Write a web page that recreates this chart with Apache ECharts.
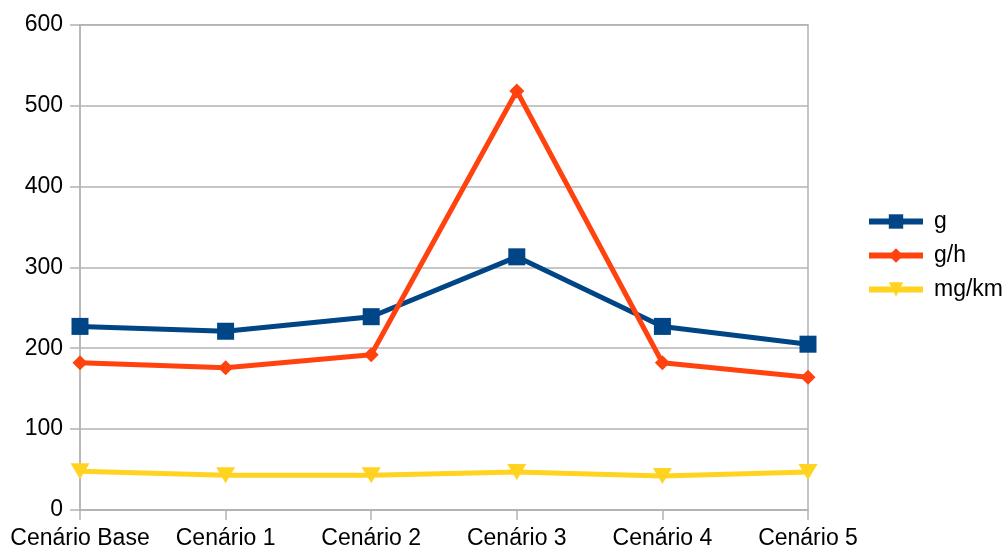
<!DOCTYPE html>
<html>
<head>
<meta charset="utf-8">
<script src="https://cdn.jsdelivr.net/npm/echarts@6/dist/echarts.min.js"></script>
<style>
  html, body { margin: 0; padding: 0; background: #fff; }
  #chart { width: 1008px; height: 550px; }
</style>
</head>
<body>
<div id="chart"></div>
<script>
// Scenario categories along the x axis
const categories = ['Cenário Base', 'Cenário 1', 'Cenário 2', 'Cenário 3', 'Cenário 4', 'Cenário 5'];

// Series values per scenario
const gValues = [227, 221, 239, 313, 227, 205];
const ghValues = [182, 176, 192, 518, 182, 164];
const mgkmValues = [48, 43, 43, 47, 42, 47];

const seriesNames = ['g', 'g/h', 'mg/km'];
const seriesColors = ['#004586', '#ff420e', '#ffd320'];

const font = 'Liberation Sans, Arial, sans-serif';
const gridColor = '#b3b3b3';

const chart = echarts.init(document.getElementById('chart'), null, { renderer: 'canvas' });

function lineSeries(name, data, color, symbol, size, rotate) {
  return {
    name: name,
    type: 'line',
    data: data,
    symbol: symbol,
    symbolSize: size,
    symbolRotate: rotate || 0,
    showAllSymbol: true,
    lineStyle: { color: color, width: 5 },
    itemStyle: { color: color },
    emphasis: { disabled: true },
    animation: false
  };
}

chart.setOption({
  backgroundColor: '#ffffff',
  animation: false,
  grid: {
    left: 80, right: 200, top: 24.7, bottom: 38.7, containLabel: false,
    show: true, borderColor: gridColor, borderWidth: 1.5, backgroundColor: 'transparent'
  },
  legend: {
    orient: 'vertical',
    left: 866,
    top: 210,
    padding: 0,
    itemWidth: 54,
    itemHeight: 18,
    itemGap: 11,
    data: seriesNames,
    lineStyle: { width: 6 },
    textStyle: { fontFamily: font, fontSize: 23, color: '#000', padding: [0, 0, 0, 6] }
  },
  xAxis: {
    type: 'category',
    data: categories,
    boundaryGap: false,
    axisLine: { lineStyle: { color: gridColor, width: 1.5 } },
    axisTick: { show: true, length: 10, interval: 0, lineStyle: { color: gridColor, width: 1.5 } },
    axisLabel: { fontFamily: font, fontSize: 23, color: '#000', margin: 17, interval: 0 },
    splitLine: { show: false }
  },
  yAxis: {
    type: 'value',
    min: 0,
    max: 600,
    interval: 100,
    axisLine: { show: true, lineStyle: { color: gridColor, width: 1.5 } },
    axisTick: { show: true, length: 10, lineStyle: { color: gridColor, width: 1.5 } },
    axisLabel: { fontFamily: font, fontSize: 23, color: '#000', margin: 17 },
    splitLine: { show: true, lineStyle: { color: gridColor, width: 1.5 } }
  },
  series: [
    lineSeries(seriesNames[0], gValues, seriesColors[0], 'rect', 17),
    lineSeries(seriesNames[1], ghValues, seriesColors[1], 'diamond', 15),
    lineSeries(seriesNames[2], mgkmValues, seriesColors[2], 'triangle', [19, 16], 180)
  ]
});
</script>
</body>
</html>
